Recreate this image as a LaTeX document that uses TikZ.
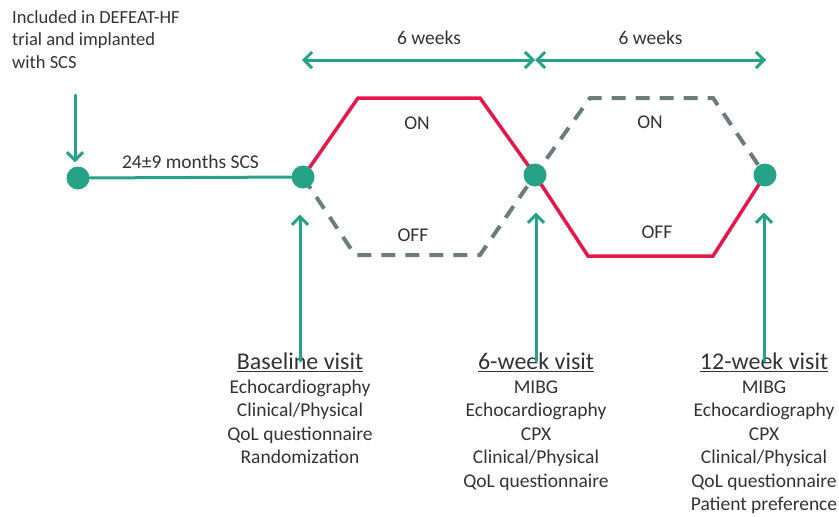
\documentclass[tikz,border=0pt]{standalone}
\usepackage{fontspec}
\setmainfont{Carlito}
\usetikzlibrary{arrows.meta,positioning,backgrounds}
\definecolor{scsgreen}{HTML}{26A287}
\definecolor{onred}{HTML}{E8174B}
\definecolor{offgrey}{HTML}{6B7D7B}
\begin{document}
\begin{tikzpicture}[line cap=round,line join=round,>={Straight Barb[length=8pt,width=16pt]},x=1pt,y=-1pt,
	txt/.style={font=\fontsize{19.5}{23.5}\selectfont,text=black!80,inner sep=0pt},
	visit/.style={circle,fill=scsgreen,inner sep=0pt,minimum size=23pt},
	timeline/.style={draw=scsgreen,line width=3pt},
	arm/.style={draw=onred,line width=3.5pt},
	sham/.style={draw=offgrey,line width=4pt,dash pattern=on 14pt off 10pt,line cap=butt},
	visittext/.style={txt,anchor=north,align=center}]
	\useasboundingbox (0,0) rectangle (839,517);
	% visits
	\node[visit] (v0) at (78,178) {};
	\node[visit] (v1) at (303,177) {};
	\node[visit] (v2) at (535,175) {};
	\node[visit] (v3) at (765,175) {};
	\begin{scope}[on background layer]
		\draw[arm] (v1.center)--(358,98)--(480,98)--(v2.center)--(588,256)--(713,256)--(v3.center);
		\draw[sham] (v1.center)--(355,255)--(480,255)--(v2.center)--(590,98)--(713,98)--(v3.center);
	\end{scope}
	\draw[timeline] (v0)--(v1) node[txt,midway,above=7pt]{24\textpm9 months SCS};
	% inclusion
	\node[txt,font=\fontsize{18.5}{22.5}\selectfont,anchor=north west,align=left] (incl) at (12,10) {Included in DEFEAT-HF\\trial and implanted\\with SCS};
	\coordinate (in0) at (75,95);
	\draw[timeline,->] (in0)--(in0 |- v0.north) [shorten >=4pt];
	% periods
	\coordinate (p0) at (302,60);
	\coordinate (p1) at (535,60);
	\coordinate (p2) at (766,60);
	\draw[timeline,<->] (p0)--(p1) node[txt,pos=.545,above=14pt]{6 weeks};
	\draw[timeline,<->] (p1)--(p2) node[txt,midway,above=14pt]{6 weeks};
	\node[txt] (on1) at (417,123) {ON};
	\node[txt] (off1) at (413,235) {OFF};
	\node[txt] (on2) at (650,122) {ON};
	\node[txt] (off2) at (657,232) {OFF};
	% visit contents
	\node[visittext] (t1) at (300,353) {{\fontsize{24}{24}\selectfont\underline{Baseline visit}}\\Echocardiography\\Clinical/Physical\\QoL questionnaire\\Randomization};
	\node[visittext] (t2) at (536,353) {{\fontsize{24}{24}\selectfont\underline{6-week visit}}\\MIBG\\Echocardiography\\CPX\\Clinical/Physical\\QoL questionnaire};
	\node[visittext] (t3) at (764,353) {{\fontsize{24}{24}\selectfont\underline{12-week visit}}\\MIBG\\Echocardiography\\CPX\\Clinical/Physical\\QoL questionnaire\\Patient preference};
	\foreach \t/\v in {t1/v1,t2/v2,t3/v3}
		\draw[timeline,->] ([yshift=-8pt]\t.north)--(\t.north |- \v.south) [shorten >=26pt];
\end{tikzpicture}
\end{document}
